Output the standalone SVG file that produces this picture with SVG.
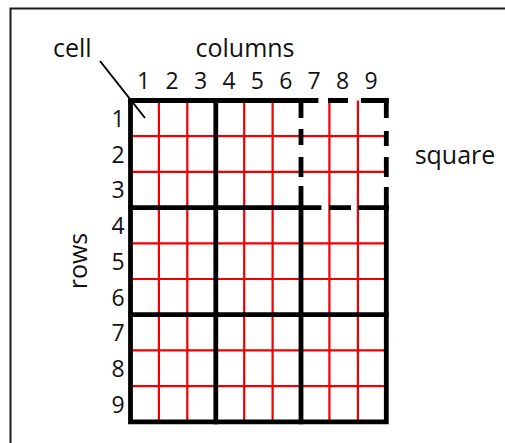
<svg xmlns="http://www.w3.org/2000/svg" width="505" height="443" viewBox="0 0 505 443">
<style>
.lbl{font-family:"Open Sans","Liberation Sans",sans-serif;font-size:25px;fill:#111}
.dig{font-family:"Open Sans","Liberation Sans",sans-serif;font-size:23px;fill:#111;text-anchor:middle}
.red{stroke:#f00000;stroke-width:2.2;fill:none}
.blk{stroke:#000;stroke-width:4.8;fill:none;stroke-linecap:square}
.dash{stroke:#000;stroke-width:4.8;fill:none;stroke-linecap:butt}
</style>
<rect id="frame" x="10.5" y="8.5" width="520" height="470" fill="#fff" stroke="#1c1c1c" stroke-width="2"/>
<g id="grid-red" class="red">
<path d="M158.9 100.5V421.8M187.3 100.5V421.8M244.2 100.5V421.8M272.6 100.5V421.8M329.4 100.5V421.8M357.9 100.5V421.8"/>
<path d="M130.5 136.2H386.3M130.5 171.9H386.3M130.5 243.3H386.3M130.5 279H386.3M130.5 350.4H386.3M130.5 386.1H386.3"/>
</g>
<g id="grid-thick" class="blk">
<path d="M130.5 100.5V421.8H386.3V207.6"/>
<path d="M130.5 100.5H316"/>
<path d="M215.8 100.5V421.8"/>
<path d="M301 207.6V421.8"/>
<path d="M130.5 207.6H319"/>
<path d="M130.5 314.7H386.3"/>
</g>
<g id="square" class="dash">
<path d="M328 100.5H348M361 100.5H388.7"/>
<path d="M386.3 98.1V118M386.3 131V146M386.3 157V177M386.3 187V210"/>
<path d="M301 98.1V118M301 129V145M301 157V177M301 186V210"/>
<path d="M329 207.6H351M358 207.6H388.7"/>
</g>
<g id="connectors">
<line x1="100" y1="61" x2="145" y2="118" stroke="#000" stroke-width="2"/>
</g>
<g id="labels">
<text id="cell" class="lbl" x="53" y="57">cell</text>
<text id="columns" class="lbl" x="245" y="57" text-anchor="middle">columns</text>
<text id="square-label" class="lbl" x="455" y="164" text-anchor="middle">square</text>
<text id="rows" class="lbl" transform="translate(87,261) rotate(-90)" text-anchor="middle">rows</text>
</g>
<g id="col-numbers">
<text class="dig" x="143.7" y="89">1</text>
<text class="dig" x="172.1" y="89">2</text>
<text class="dig" x="200.5" y="89">3</text>
<text class="dig" x="229" y="89">4</text>
<text class="dig" x="257.4" y="89">5</text>
<text class="dig" x="285.8" y="89">6</text>
<text class="dig" x="314.2" y="89">7</text>
<text class="dig" x="342.7" y="89">8</text>
<text class="dig" x="371.1" y="89">9</text>
</g>
<g id="row-numbers">
<text class="dig" x="118" y="127">1</text>
<text class="dig" x="118" y="162.7">2</text>
<text class="dig" x="118" y="198.4">3</text>
<text class="dig" x="118" y="234.1">4</text>
<text class="dig" x="118" y="269.8">5</text>
<text class="dig" x="118" y="305.5">6</text>
<text class="dig" x="118" y="341.2">7</text>
<text class="dig" x="118" y="376.9">8</text>
<text class="dig" x="118" y="412.6">9</text>
</g>
</svg>
